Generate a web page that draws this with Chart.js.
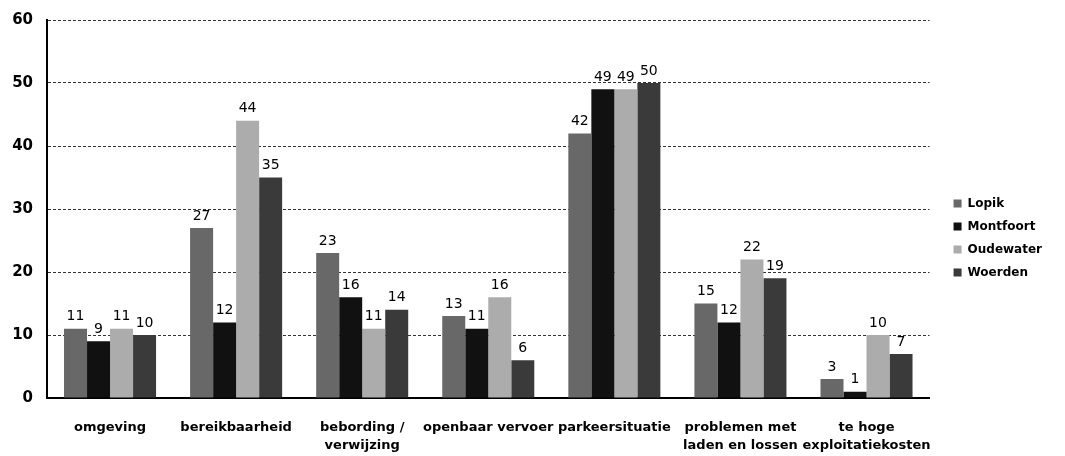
<!DOCTYPE html>
<html>
<head>
<meta charset="utf-8">
<script src="https://cdn.jsdelivr.net/npm/chart.js@4/dist/chart.umd.min.js"></script>
<style>
  html, body { margin: 0; padding: 0; background: #fff; }
  #wrap { width: 1065px; height: 456px; }
</style>
</head>
<body>
<div id="wrap"><canvas id="myChart"></canvas></div>
<script>
const categories = [
    'omgeving',
    'bereikbaarheid',
    ['bebording /', 'verwijzing'],
    'openbaar vervoer',
    'parkeersituatie',
    ['problemen met', 'laden en lossen'],
    ['te hoge', 'exploitatiekosten']
];
const lopik = [11, 27, 23, 13, 42, 15, 3];
const montfoort = [9, 12, 16, 11, 49, 12, 1];
const oudewater = [11, 44, 11, 16, 49, 22, 10];
const woerden = [10, 35, 14, 6, 50, 19, 7];
const yTicks = [0, 10, 20, 30, 40, 50, 60];

// draws the value above every bar
const valueLabels = {
    id: 'valueLabels',
    afterDatasetsDraw(chart) {
        const c = chart.ctx;
        c.save();
        c.font = '14px "DejaVu Sans"';
        c.fillStyle = '#000';
        c.textAlign = 'center';
        c.textBaseline = 'bottom';
        chart.data.datasets.forEach(function (ds, i) {
            chart.getDatasetMeta(i).data.forEach(function (bar, j) {
                c.fillText(ds.data[j], bar.x, bar.y - 5);
            });
        });
        c.restore();
    }
};

document.addEventListener("DOMContentLoaded", function () {
    const ctx = document.getElementById('myChart');
    new Chart(ctx, {
        type: 'bar',
        data: {
            labels: categories,
            datasets: [
                { label: 'Lopik', data: lopik, backgroundColor: '#686868' },
                { label: 'Montfoort', data: montfoort, backgroundColor: '#111111' },
                { label: 'Oudewater', data: oudewater, backgroundColor: '#acacac' },
                { label: 'Woerden', data: woerden, backgroundColor: '#3a3a3a' }
            ]
        },
        options: {
            responsive: true,
            maintainAspectRatio: false,
            animation: false,
            layout: { padding: { left: 0, top: 20, right: 13, bottom: 0 } },
            datasets: {
                bar: { barPercentage: 1, categoryPercentage: 0.73 }
            },
            plugins: {
                legend: {
                    position: 'right',
                    labels: {
                        boxWidth: 8,
                        boxHeight: 8,
                        padding: 11,
                        color: '#000',
                        font: { family: 'DejaVu Sans', size: 12, weight: 'bold' }
                    }
                },
                tooltip: { enabled: false }
            },
            scales: {
                x: {
                    afterFit: function (s) { s.height = 58; },
                    grid: { display: false, drawTicks: false },
                    border: { color: '#000', width: 2 },
                    ticks: {
                        color: '#000',
                        maxRotation: 0,
                        autoSkip: false,
                        padding: 21,
                        font: { family: 'DejaVu Sans', size: 13, weight: 'bold', lineHeight: 1.35 }
                    }
                },
                y: {
                    min: 0,
                    max: 60,
                    afterFit: function (s) {
                        s.width = 47;
                        s.paddingTop = 0;
                        s.paddingBottom = 0;
                    },
                    afterBuildTicks: function (axis) {
                        axis.ticks = yTicks.map(function (v) { return { value: v }; });
                    },
                    grid: { color: '#333', lineWidth: 1, drawTicks: false },
                    border: { color: '#000', width: 2, dash: [3, 2] },
                    ticks: {
                        color: '#000',
                        padding: 14,
                        font: { family: 'DejaVu Sans', size: 15, weight: 'bold' }
                    }
                },
                // empty gap between the plot and the legend
                gap: {
                    position: 'right',
                    display: true,
                    afterFit: function (s) { s.width = 13; },
                    grid: { display: false, drawTicks: false },
                    border: { display: false },
                    ticks: { display: false }
                }
            }
        },
        plugins: [valueLabels]
    });
});
</script>
</body>
</html>
